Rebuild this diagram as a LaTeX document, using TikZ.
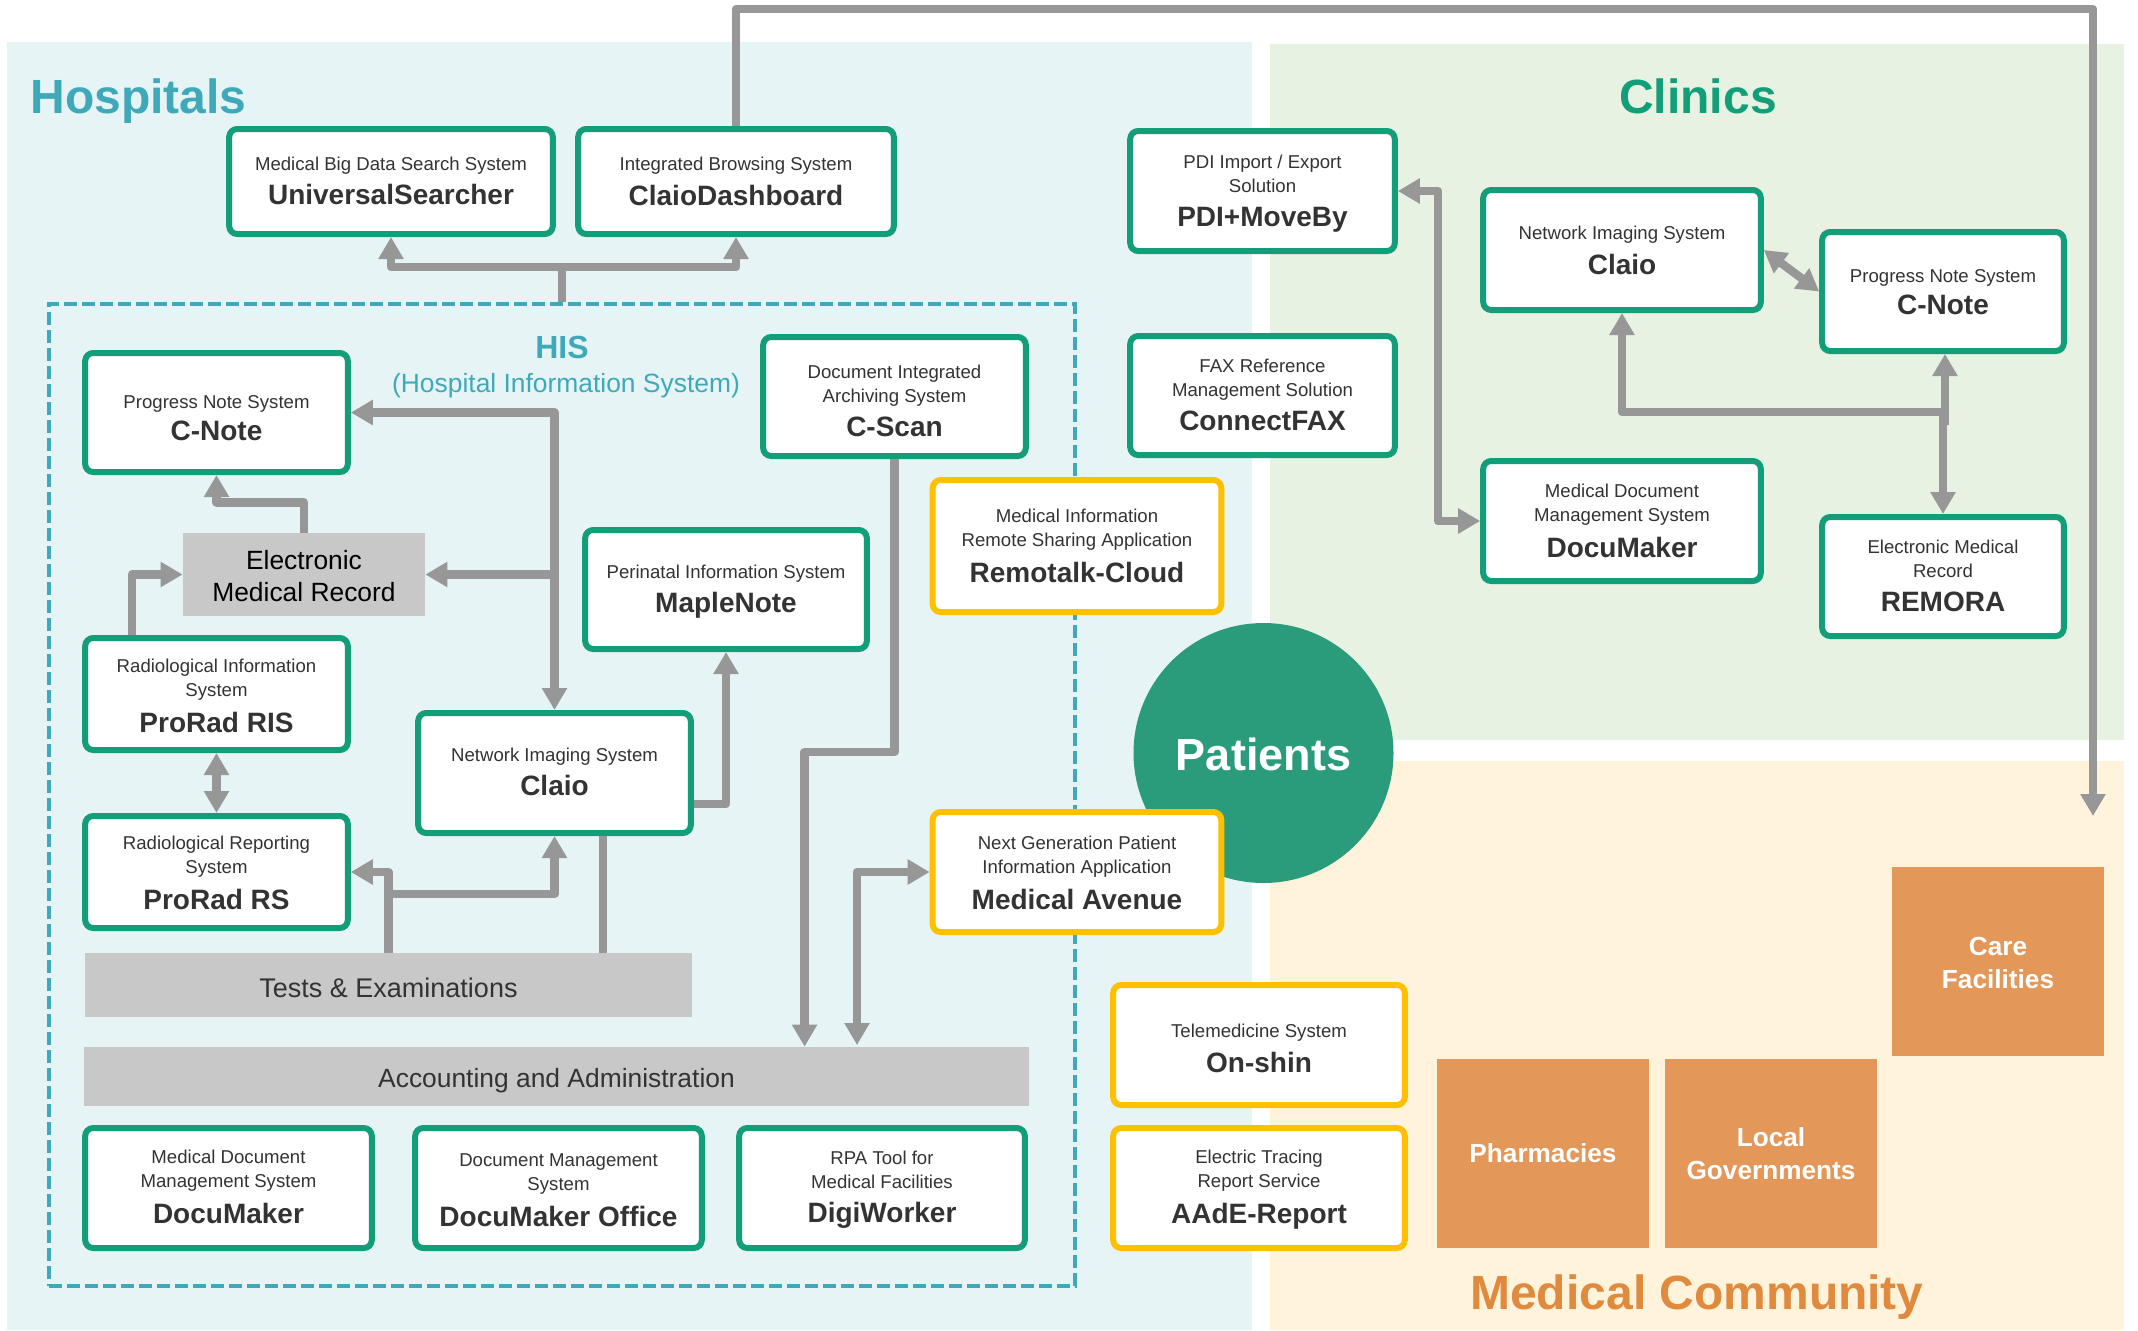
\documentclass[tikz,border=0pt]{standalone}
\usepackage{fontspec}
\setmainfont{Liberation Sans}
\usetikzlibrary{arrows.meta}
\definecolor{hospbg}{HTML}{E6F4F5}
\definecolor{clinbg}{HTML}{E8F2E3}
\definecolor{commbg}{HTML}{FFF4DB}
\definecolor{tealtxt}{HTML}{3FA9BA}
\definecolor{greenc}{HTML}{129E78}
\definecolor{circlec}{HTML}{2A9C7B}
\definecolor{yellowc}{HTML}{FFC000}
\definecolor{orangeb}{HTML}{E39859}
\definecolor{orangetxt}{HTML}{E08A3E}
\definecolor{linec}{HTML}{979797}
\definecolor{greyb}{HTML}{C8C8C8}
\definecolor{darktxt}{HTML}{333333}
% optional argument: how far the text sits below the box centre
\newcommand{\stext}[3][2]{\fontsize{9.3}{12.4}\selectfont\rule{0pt}{\dimexpr 6.7pt+#1\dimexpr1.36pt\relax\relax}#2\\[4.1pt]{\fontsize{14}{14}\selectfont\bfseries\vphantom{Ag}#3}}
\newcommand{\stextb}[4][2]{\fontsize{9.3}{12.4}\selectfont\rule{0pt}{\dimexpr 6.7pt+#1\dimexpr1.36pt\relax\relax}#2\\{\fontsize{9.3}{12.4}\selectfont #3}\\[5pt]{\fontsize{14}{14}\selectfont\bfseries\vphantom{Ag}#4}}
\newcommand{\boxnode}[7]{\node[#1,minimum width={(#5-#3)*0.5pt-2.2pt},minimum height={(#6-#4)*0.5pt-3pt}] (#2) at ({(#3+#5)/2},{(#4+#6)/2}) {#7};}
\newcommand{\plainnode}[7]{\node[#1,minimum width={(#5-#3)*0.5pt},minimum height={(#6-#4)*0.5pt}] (#2) at ({(#3+#5)/2},{(#4+#6)/2}) {#7};}
\tikzset{
  sysbase/.style={rectangle,rounded corners=4pt,fill=white,line width=3pt,inner sep=0pt,align=center,text=darktxt},
  greenbox/.style={sysbase,draw=greenc},
  yellowbox/.style={sysbase,draw=yellowc},
  greybox/.style={rectangle,fill=greyb,inner sep=0pt,align=center,font=\fontsize{13.2}{16}\selectfont},
  orangebox/.style={rectangle,fill=orangeb,inner sep=0pt,align=center,text=white,font=\fontsize{13.1}{16.2}\selectfont\bfseries},
  region/.style={rectangle,inner sep=0pt,draw=none},
  hisframe/.style={rectangle,draw=tealtxt,line width=1.8pt,dash pattern=on 6.5pt off 2.5pt,inner sep=0pt},
  title/.style={font=\fontsize{24}{28}\selectfont\bfseries,inner sep=0pt},
  link/.style={draw=linec,line width=4.2pt,line join=round},
  onehead/.style={link,-{Triangle[width=12pt,length=11pt]}},
  twohead/.style={link,{Triangle[width=12pt,length=11pt]}-{Triangle[width=12pt,length=11pt]}},
}
\begin{document}
\begin{tikzpicture}[x=0.5pt,y=-0.5pt]
\useasboundingbox (0,0) rectangle (2138,1330);
% regions
\plainnode{region,fill=hospbg}{rhosp}{7}{42}{1252}{1330}{}
\plainnode{region,fill=clinbg}{rclin}{1270}{44}{2124}{740}{}
\plainnode{region,fill=commbg}{rcomm}{1270}{761}{2124}{1330}{}
% titles
\node[title,text=tealtxt,anchor=west] (thosp) at (30,101) {Hospitals};
\node[title,text=greenc] (tclin) at (1698,96.5) {Clinics};
\node[title,text=orangetxt] (tcomm) at (1697,1297) {Medical Community};
% HIS frame
\plainnode{hisframe}{his}{49}{304}{1075}{1286}{}
\node[text=tealtxt,font=\fontsize{16}{18}\selectfont\bfseries,inner sep=0pt] (this) at (562,347) {HIS};
\node[text=tealtxt,font=\fontsize{13.2}{15}\selectfont,inner sep=0pt] (this2) at (566,386) {(Hospital Information System)};
% patients
\node[circle,fill=circlec,minimum size=130pt,inner sep=0pt,text=white,font=\fontsize{22.5}{26}\selectfont\bfseries] (patients) at (1263.5,753) {\rule{0pt}{18pt}Patients};
% hospital boxes
\boxnode{greenbox}{us}{227}{126}{555}{237}{\stext[1.5]{Medical Big Data Search System}{UniversalSearcher}}
\boxnode{greenbox}{cd}{576}{126}{896}{237}{\stext{Integrated Browsing System}{ClaioDashboard}}
\boxnode{greenbox}{cnote}{83}{350}{350}{475}{\stext[6]{Progress Note System}{C-Note}}
\boxnode{greenbox}{cscan}{761}{334}{1028}{459}{\stextb[5.5]{Document Integrated}{Archiving System}{C-Scan}}
\boxnode{greenbox}{maple}{583}{527}{869}{652}{\stext[1.5]{Perinatal Information System}{MapleNote}}
\boxnode{yellowbox}{remotalk}{930.5}{477}{1223.5}{615}{\stextb[2]{Medical Information}{Remote Sharing Application}{Remotalk-Cloud}}
\plainnode{greybox}{emr}{183}{533}{425}{616}{\rule{0pt}{11pt}Electronic\\Medical Record}
\boxnode{greenbox}{ris}{83}{635}{350}{753}{\stextb[3.5]{Radiological Information}{System}{ProRad RIS}}
\boxnode{greenbox}{rs}{83}{813}{350}{931}{\stextb[3]{Radiological Reporting}{System}{ProRad RS}}
\boxnode{greenbox}{claio}{416}{710}{693}{836}{\stext[1.5]{Network Imaging System}{Claio}}
\plainnode{greybox,text=darktxt,font=\fontsize{13.5}{16}\selectfont}{tests}{85}{953}{692}{1017}{\rule{0pt}{12.3pt}Tests \& Examinations}
\plainnode{greybox,text=darktxt}{acct}{84}{1047}{1029}{1106}{\rule{0pt}{14pt}Accounting and Administration}
\boxnode{greenbox}{dm}{83}{1125}{374}{1251}{\stextb[1.5]{Medical Document}{Management System}{DocuMaker}}
\boxnode{greenbox}{dmo}{413}{1125}{704}{1251}{\stextb[3.5]{Document Management}{System}{DocuMaker Office}}
\boxnode{greenbox}{digi}{737}{1125}{1027}{1251}{\stextb[1.5]{RPA Tool for}{Medical Facilities}{DigiWorker}}
\boxnode{yellowbox}{mav}{930.5}{809}{1223.5}{935}{\stextb[2.5]{Next Generation Patient}{Information Application}{Medical Avenue}}
% middle
\boxnode{greenbox}{pdi}{1128}{128}{1397}{254}{\stextb{PDI Import / Export}{Solution}{PDI+MoveBy}}
\boxnode{greenbox}{fax}{1128}{333}{1397}{458}{\stextb{FAX Reference}{Management Solution}{ConnectFAX}}
\boxnode{yellowbox}{onshin}{1111}{982}{1407}{1108}{\stext[4.5]{Telemedicine System}{On-shin}}
\boxnode{yellowbox}{aade}{1111}{1125}{1407}{1251}{\stextb[1.5]{Electric Tracing}{Report Service}{AAdE-Report}}
% clinics
\boxnode{greenbox}{rclaio}{1481}{187}{1763}{313}{\stext[2.5]{Network Imaging System}{Claio}}
\boxnode{greenbox}{rcnote}{1820}{229}{2066}{354}{\stext[2.5]{Progress Note System}{C-Note}}
\boxnode{greenbox}{rdoc}{1481}{458}{1763}{584}{\stextb{Medical Document}{Management System}{DocuMaker}}
\boxnode{greenbox}{remora}{1820}{514}{2066}{639}{\stextb{Electronic Medical}{Record}{REMORA}}
% community
\plainnode{orangebox}{care}{1892}{867}{2104}{1056}{\rule{0pt}{10.8pt}Care\\Facilities}
\plainnode{orangebox}{pharm}{1437}{1059}{1649}{1248}{Pharmacies}
\plainnode{orangebox}{local}{1665}{1059}{1877}{1248}{Local\\Governments}
% bend coordinates
\coordinate (topr) at (2093,9);
\coordinate (tope) at (2093,816);
\coordinate (risx) at (132,575);
\coordinate (testbr) at (388.5,894);
\coordinate (clx) at (603,900);
\coordinate (cmap) at (726,804);
\coordinate (csb) at (804.6,752);
\coordinate (mab) at (857,1045);
\coordinate (pdb) at (1438,350);
\coordinate (rjn) at (1943,412);
\coordinate (rtail) at (1945,425);
% connectors
\draw[onehead] (his.north) -- ++(0,-35) -| (us.south);
\draw[onehead] (his.north) -- ++(0,-35) -| (cd.south);
\draw[onehead] (cd.north) |- (topr) -- (tope);
\draw[twohead] (cnote.east) -| (claio.north);
\draw[onehead] (claio.north |- emr.east) -- (emr.east);
\draw[onehead] (emr.north) -- ++(0,-30) -| (cnote.south);
\draw[onehead] (ris.north -| risx) |- (emr.west);
\draw[twohead] (ris.south) -- (rs.north);
\draw[onehead] (tests.north) |- (rs.east);
\draw[onehead] (testbr) -| (claio.south);
\draw[link] (claio.south -| clx) -- (tests.north -| clx);
\draw[onehead] (claio.east |- cmap) -| (maple.south);
\draw[onehead] (cscan.south) |- (csb) -- (csb |- acct.north);
\draw[twohead] (mab) |- (mav.west);
\draw[twohead] (pdi.east) -| (pdb) |- (rdoc.west);
\draw[twohead] (rclaio.east) -- (rcnote.west);
\draw[onehead] (rtail) -- (rtail |- rcnote.south);
\draw[onehead] (rjn) -| (rclaio.south);
\draw[onehead] (rjn) -- (remora.north);
\end{tikzpicture}
\end{document}
